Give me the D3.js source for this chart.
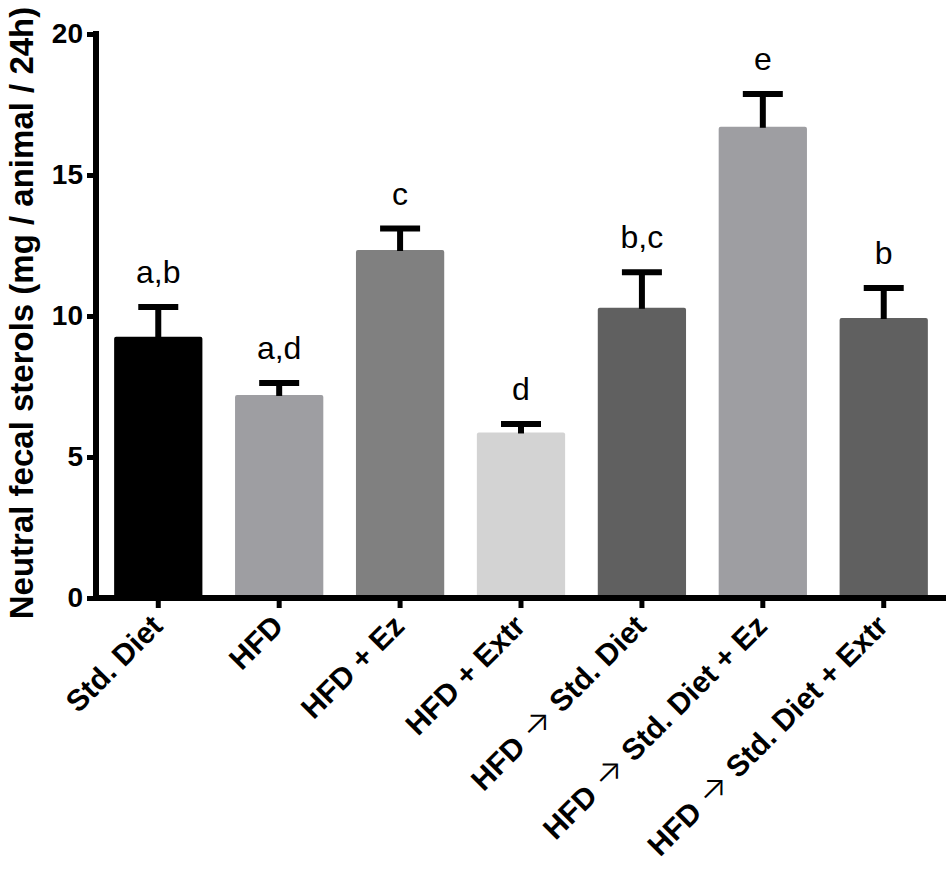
<!DOCTYPE html>
<html lang="en">
<head>
	<meta charset="utf-8">
	<title>Neutral fecal sterols</title>
	<script src="https://cdn.jsdelivr.net/npm/d3@7"></script>
	<style>
		body { margin: 0; background: #fff; }
		text { font-family: "Liberation Sans", Arial, sans-serif; }
	</style>
</head>
<body>
	<script>
		// data
		const groups = ["Std. Diet", "HFD", "HFD + Ez", "HFD + Extr",
			"HFD \u2192 Std. Diet", "HFD \u2192 Std. Diet + Ez", "HFD \u2192 Std. Diet + Extr"];
		const means = [9.26, 7.2, 12.34, 5.87, 10.29, 16.71, 9.93];
		const errTop = [10.32, 7.62, 13.1, 6.17, 11.55, 17.87, 10.99];
		const letters = ["a,b", "a,d", "c", "d", "b,c", "e", "b"];
		const colors = ["#000000", "#9e9ea2", "#808080", "#d3d3d3", "#606060", "#9e9ea2", "#606060"];
		const yTicks = [0, 5, 10, 15, 20];

		const w = 950;
		const h = 874;
		const padLeft = 96, padRight = 946, padTop = 34, padBottom = 598;

		const svg = d3.select("body")
			.append("svg")
			.attr("width", w)
			.attr("height", h);

		const x = d3.scaleBand()
			.domain(groups)
			.range([padLeft, padRight])
			.paddingInner(0.27)
			.paddingOuter(0.15);

		const y = d3.scaleLinear()
			.domain([0, 20])
			.range([padBottom, padTop]);

		const rows = groups.map((g, i) => ({ g: g, m: means[i], e: errTop[i], l: letters[i], c: colors[i] }));

		// bars
		svg.selectAll("rect.bar")
			.data(rows)
			.enter()
			.append("rect")
			.attr("class", "bar")
			.attr("x", d => x(d.g))
			.attr("y", d => y(d.m))
			.attr("width", x.bandwidth())
			.attr("height", d => y(0) - y(d.m))
			.attr("rx", 2)
			.attr("fill", d => d.c);

		// error bars (upper only)
		svg.selectAll("line.stem")
			.data(rows)
			.enter()
			.append("line")
			.attr("class", "stem")
			.attr("x1", d => x(d.g) + x.bandwidth() / 2)
			.attr("x2", d => x(d.g) + x.bandwidth() / 2)
			.attr("y1", d => y(d.m) + 1)
			.attr("y2", d => y(d.e))
			.attr("stroke", "#000")
			.attr("stroke-width", 6);

		svg.selectAll("line.cap")
			.data(rows)
			.enter()
			.append("line")
			.attr("class", "cap")
			.attr("x1", d => x(d.g) + x.bandwidth() / 2 - 20)
			.attr("x2", d => x(d.g) + x.bandwidth() / 2 + 20)
			.attr("y1", d => y(d.e))
			.attr("y2", d => y(d.e))
			.attr("stroke", "#000")
			.attr("stroke-width", 6);

		// significance letters
		svg.selectAll("text.sig")
			.data(rows)
			.enter()
			.append("text")
			.attr("class", "sig")
			.attr("x", d => x(d.g) + x.bandwidth() / 2)
			.attr("y", d => y(d.e) - 24)
			.attr("text-anchor", "middle")
			.attr("font-size", "32px")
			.attr("fill", "#000")
			.text(d => d.l);

		// y axis
		const yAxis = d3.axisLeft(y)
			.tickValues(yTicks)
			.tickSize(9)
			.tickPadding(4)
			.tickFormat(d3.format("d"));

		const gy = svg.append("g")
			.attr("transform", `translate(${padLeft},0)`)
			.call(yAxis);
		gy.select(".domain").attr("stroke-width", 6).attr("d", `M0,${padTop - 3}V${padBottom + 3}`);
		gy.selectAll(".tick line").attr("stroke-width", 5);
		gy.selectAll(".tick text")
			.attr("font-size", "28px")
			.attr("font-weight", "bold")
			.attr("font-family", "Liberation Sans, Arial, sans-serif")
			.attr("fill", "#000");

		// x axis
		const xAxis = d3.axisBottom(x).tickSize(10).tickFormat("");
		const gx = svg.append("g")
			.attr("transform", `translate(0,${padBottom})`)
			.call(xAxis);
		gx.select(".domain").attr("stroke-width", 6).attr("d", `M${padLeft - 3},0H${padRight}`);
		gx.selectAll(".tick line").attr("stroke-width", 5);

		// x labels, rotated
		const xl = svg.selectAll("text.xlab")
			.data(groups)
			.enter()
			.append("text")
			.attr("class", "xlab")
			.attr("transform", d => `translate(${x(d) + x.bandwidth() / 2 + 6},628) rotate(-45)`)
			.attr("text-anchor", "end")
			.attr("font-size", "30px")
			.attr("font-weight", "bold")
			.attr("fill", "#000");

		xl.each(function (d) {
			const t = d3.select(this);
			const parts = d.split("\u2192");
			if (parts.length === 1) {
				t.text(d);
			} else {
				t.append("tspan").text(parts[0]);
				t.append("tspan")
					.attr("font-weight", "300")
					.attr("font-family", "Inter, DejaVu Sans, sans-serif")
					.attr("font-size", "34px")
					.text("\u2192");
				t.append("tspan").text(parts[1]);
			}
		});

		// y title
		svg.append("text")
			.attr("transform", "translate(33,313) rotate(-90)")
			.attr("text-anchor", "middle")
			.attr("font-size", "33px")
			.attr("font-weight", "bold")
			.attr("fill", "#000")
			.text("Neutral fecal sterols (mg / animal / 24h)");
	</script>
</body>
</html>
